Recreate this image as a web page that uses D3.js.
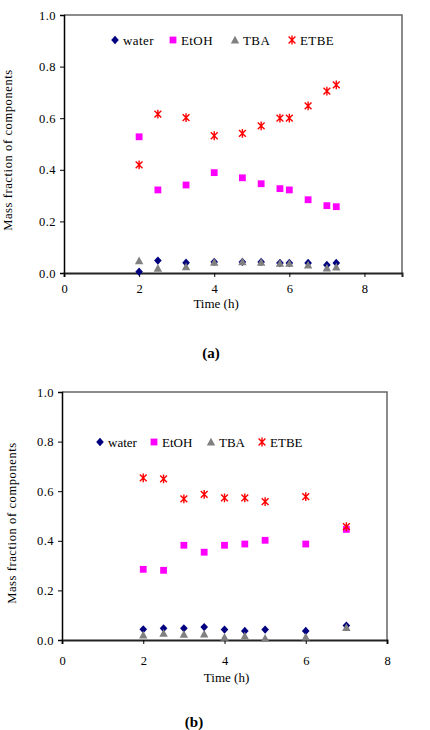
<!DOCTYPE html>
<html><head><meta charset="utf-8">
<script src="https://cdn.jsdelivr.net/npm/d3@7"></script>
<style>
html,body{margin:0;padding:0;background:#fff;}
text{font-family:"Liberation Serif","Times New Roman",Times,serif !important;}
</style></head>
<body>
<svg id="chart" width="430" height="730"></svg>
<script>
// ---- data ----
const seriesNames = ["water", "EtOH", "TBA", "ETBE"];
const seriesColors = ["#000080", "#FF00FF", "#808080", "#FF0000"];
const yTicks = [0, 0.2, 0.4, 0.6, 0.8, 1.0];
const xTicksA = [0, 2, 4, 6, 8];
const xTicksB = [0, 2, 4, 6, 8];

const timeA  = [2, 2.5, 3.25, 4, 4.75, 5.25, 5.75, 6, 6.5, 7, 7.25];
const waterA = [0.005, 0.048, 0.040, 0.043, 0.043, 0.043, 0.039, 0.039, 0.039, 0.031, 0.039];
const etohA  = [0.528, 0.322, 0.341, 0.389, 0.369, 0.346, 0.327, 0.322, 0.284, 0.261, 0.257];
const tbaA   = [0.047, 0.018, 0.024, 0.041, 0.043, 0.041, 0.037, 0.037, 0.031, 0.019, 0.023];
const etbeA  = [0.419, 0.616, 0.602, 0.532, 0.541, 0.570, 0.600, 0.600, 0.648, 0.705, 0.729];

const timeB  = [2, 2.5, 3, 3.5, 4, 4.5, 5, 6, 7];
const waterB = [0.043, 0.047, 0.047, 0.052, 0.042, 0.036, 0.042, 0.036, 0.058];
const etohB  = [0.285, 0.281, 0.382, 0.354, 0.382, 0.387, 0.402, 0.387, 0.446];
const tbaB   = [0.020, 0.027, 0.023, 0.024, 0.011, 0.016, 0.007, 0.012, 0.050];
const etbeB  = [0.654, 0.650, 0.569, 0.587, 0.573, 0.573, 0.558, 0.578, 0.457];

const FONT = "Liberation Serif, Times New Roman, serif";
const svg = d3.select("#chart").attr("font-family", FONT);

function marker(g, type, color) {
  if (type === 0) {
    g.append("path").attr("d", "M0,-4.2L3.8,0L0,4.2L-3.8,0Z").attr("fill", color);
  } else if (type === 1) {
    g.append("rect").attr("x", -3.4).attr("y", -3.4).attr("width", 6.8).attr("height", 6.8).attr("fill", color);
  } else if (type === 2) {
    g.append("path").attr("d", "M0,-4.3L4.2,3.4L-4.2,3.4Z").attr("fill", color);
  } else {
    g.append("path").attr("d", "M-3.4,-3.4L3.4,3.4M-3.4,3.4L3.4,-3.4M0,-4.4L0,4.4")
      .attr("stroke", color).attr("stroke-width", 1.4).attr("fill", "none");
  }
}

function panel(cfg) {
  const x = d3.scaleLinear().domain([0, cfg.xMax]).range([cfg.left, cfg.right]);
  const y = d3.scaleLinear().domain([0, 1]).range([cfg.bottom, cfg.top]);
  const g = svg.append("g").attr("font-family", FONT);

  // frame (top & right)
  g.append("path")
    .attr("d", `M${cfg.left},${cfg.top}H${cfg.right}V${cfg.bottom}`)
    .attr("stroke", "#666").attr("stroke-width", 1.5).attr("fill", "none");

  // y axis
  const ya = g.append("g").attr("transform", `translate(${cfg.left},0)`)
    .call(d3.axisLeft(y).tickValues(yTicks).tickFormat(d3.format(".1f")).tickSize(4).tickPadding(4));
  ya.attr("font-family", FONT).attr("font-size", 12.5);
  ya.select(".domain").attr("stroke", "#000").attr("stroke-width", 1.5);
  ya.selectAll("text").attr("fill", "#000").attr("letter-spacing", 0.5);

  // x axis
  const xa = g.append("g").attr("transform", `translate(0,${cfg.bottom})`)
    .call(d3.axisBottom(x).tickValues(cfg.xTicks).tickFormat(d3.format("d")).tickSize(4).tickPadding(cfg.xPad));
  xa.attr("font-family", FONT).attr("font-size", 12.5);
  xa.select(".domain").attr("stroke", "#222").attr("stroke-width", 2);
  xa.selectAll("text").attr("fill", "#000");

  // axis titles
  g.append("text").attr("x", x(4.05)).attr("y", cfg.bottom + cfg.xTitleOff)
    .attr("text-anchor", "middle").attr("font-size", 13).text("Time (h)");
  g.append("text")
    .attr("transform", `translate(${cfg.yTitleX},${cfg.yTitleY}) rotate(-90)`)
    .attr("text-anchor", "middle").attr("font-size", 12.5).attr("letter-spacing", 0.6)
    .text("Mass fraction of components");

  // points (ETBE drawn last)
  cfg.series.forEach((vals, si) => {
    if (si === 3) return;
    vals.forEach((v, i) => {
      const m = g.append("g").attr("transform", `translate(${x(cfg.time[i])},${y(v)})`);
      marker(m, si, seriesColors[si]);
    });
  });
  cfg.series[3].forEach((v, i) => {
    const m = g.append("g").attr("transform", `translate(${x(cfg.time[i])},${y(v)})`);
    marker(m, 3, seriesColors[3]);
  });

  // legend
  const lg = g.append("g");
  cfg.legendX.forEach((lx, si) => {
    const m = lg.append("g").attr("transform", `translate(${lx},${cfg.legendY})`);
    marker(m, si, seriesColors[si]);
    lg.append("text").attr("x", lx + 8).attr("y", cfg.legendY + 4.5)
      .attr("font-size", 13).attr("letter-spacing", cfg.legendLS).text(seriesNames[si]);
  });

  // panel label
  svg.append("text").attr("x", cfg.labelX).attr("y", cfg.labelY)
    .attr("text-anchor", "middle").attr("font-size", 15).attr("font-weight", "bold").text(cfg.label);
}

panel({
  left: 64, right: 402, top: 15, bottom: 273, xMax: 9, xTicks: xTicksA, xPad: 7,
  xTitleOff: 35, yTitleX: 12, yTitleY: 150,
  time: timeA, series: [waterA, etohA, tbaA, etbeA],
  legendX: [115, 173, 235, 292], legendY: 40, legendLS: 0.4,
  label: "(a)", labelX: 211, labelY: 358
});

panel({
  left: 62, right: 387, top: 392, bottom: 640, xMax: 8, xTicks: xTicksB, xPad: 12,
  xTitleOff: 42, yTitleX: 16, yTitleY: 523,
  time: timeB, series: [waterB, etohB, tbaB, etbeB],
  legendX: [100, 154, 211, 262], legendY: 442, legendLS: 0,
  label: "(b)", labelX: 194, labelY: 727
});
</script>
</body></html>
